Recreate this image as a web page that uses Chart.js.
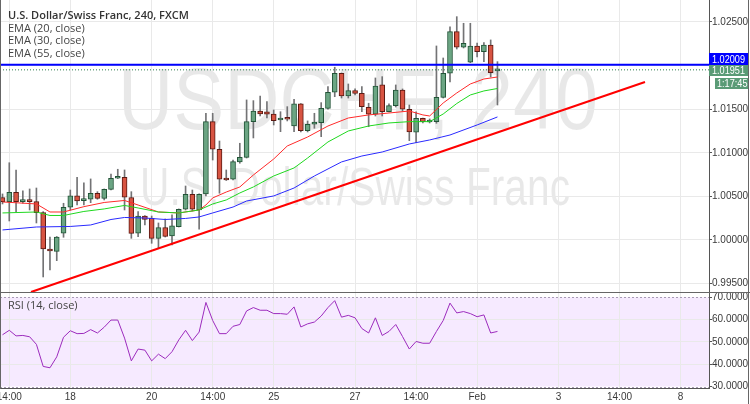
<!DOCTYPE html>
<html><head><meta charset="utf-8">
<script src="https://cdn.jsdelivr.net/npm/chart.js@4.4.1/dist/chart.umd.min.js"></script>
<style>
html,body{margin:0;padding:0;background:#fff;}
#wrap{position:relative;width:750px;height:404px;overflow:hidden;background:#fff;font-family:"Open Sans",Arial,sans-serif;}
canvas{position:absolute;left:0;}
#c1{top:0;}
#c2{top:293px;}
.lg{position:absolute;left:8px;font-size:11px;color:#444;white-space:nowrap;line-height:13px;}
.ln{position:absolute;background:#666;}
</style></head><body>
<div id="wrap">
<canvas id="c1" width="750" height="293"></canvas>
<canvas id="c2" width="750" height="111"></canvas>
<div class="lg" style="top:8px;font-weight:600;color:#333">U.S. Dollar/Swiss Franc, 240, FXCM</div>
<div class="lg" style="top:21px">EMA (20, close)</div>
<div class="lg" style="top:33px">EMA (30, close)</div>
<div class="lg" style="top:46px">EMA (55, close)</div>
<div class="lg" style="top:298px">RSI (14, close)</div>
<div class="ln" style="left:0;top:0;width:1px;height:389px"></div>
<div class="ln" style="left:748px;top:0;width:1px;height:404px"></div>
<div class="ln" style="left:0;top:292px;width:750px;height:1px"></div>
</div>
<script>
// ---- data (4h bars, USD/CHF) ----
const opens = [1.00487,1.00439,1.00547,1.00439,1.00459,1.00439,1.00313,0.99897,0.99870,1.00077,
1.00375,1.00505,1.00451,1.00467,1.00536,1.00478,1.00581,1.00708,1.00719,1.00487,
1.00077,1.00275,1.00249,1.00019,1.00141,1.00046,1.00153,1.00352,1.00524,1.00344,
1.00528,1.01357,1.01040,1.00703,1.00696,1.00895,1.00948,1.01357,1.01479,1.01471,
1.01445,1.01376,1.01396,1.01307,1.01560,1.01253,1.01327,1.01345,1.01510,1.01694,
1.01912,1.01651,1.01712,1.01682,1.01522,1.01442,1.01778,1.01471,1.01540,1.01720,
1.01499,1.01235,1.01396,1.01353,1.01357,1.01636,1.01912,1.02389,1.02210,1.02038,
1.02225,1.02159,1.02236,1.01940];
const highs = [1.00528,1.00886,1.00803,1.00565,1.00585,1.00596,1.00325,1.00034,1.00040,1.00421,
1.00573,1.00719,1.00654,1.00700,1.00554,1.00585,1.00757,1.00811,1.00803,1.00554,
1.00325,1.00280,1.00275,1.00195,1.00241,1.00287,1.00356,1.00619,1.00573,1.00528,
1.01453,1.01453,1.01135,1.00803,1.00917,1.01109,1.01606,1.01598,1.01651,1.01586,
1.01491,1.01471,1.01529,1.01614,1.01565,1.01365,1.01453,1.01575,1.01758,1.01981,
1.01915,1.01789,1.01732,1.01758,1.01568,1.01858,1.01873,1.01560,1.01778,1.01732,
1.01548,1.01471,1.01399,1.01388,1.02225,1.02087,1.02443,1.02561,1.02485,1.02485,
1.02259,1.02263,1.02294,1.02045];
const lows = [1.00413,1.00218,1.00325,1.00421,1.00344,1.00195,0.99576,0.99656,0.99763,1.00031,
1.00344,1.00401,1.00401,1.00428,1.00467,1.00459,1.00573,1.00704,1.00344,1.00019,
1.00038,1.00172,0.99962,0.99905,1.00034,0.99943,1.00149,1.00344,1.00333,1.00123,
1.00505,1.00917,1.00536,1.00682,1.00688,1.00880,1.00940,1.01170,1.01422,1.01399,
1.01319,1.01242,1.01365,1.01242,1.01239,1.01239,1.01281,1.01185,1.01499,1.01643,
1.01628,1.01628,1.01663,1.01471,1.01299,1.01422,1.01422,1.01468,1.01525,1.01479,
1.01139,1.01116,1.01342,1.01342,1.01338,1.01628,1.01812,1.02190,1.02202,1.02033,
1.02099,1.02045,1.01869,1.01548];
const closes = [1.00439,1.00547,1.00439,1.00459,1.00439,1.00313,0.99897,0.99874,1.00034,1.00375,
1.00505,1.00447,1.00467,1.00536,1.00478,1.00581,1.00708,1.00726,1.00490,1.00075,
1.00275,1.00237,1.00019,1.00141,1.00042,1.00161,1.00352,1.00524,1.00352,1.00524,
1.01357,1.01040,1.00696,1.00688,1.00898,1.00948,1.01357,1.01479,1.01445,1.01442,
1.01368,1.01396,1.01384,1.01560,1.01253,1.01327,1.01353,1.01510,1.01694,1.01912,
1.01651,1.01712,1.01682,1.01529,1.01442,1.01766,1.01471,1.01540,1.01720,1.01499,
1.01239,1.01396,1.01357,1.01365,1.01636,1.01912,1.02389,1.02210,1.02256,1.02225,
1.02159,1.02236,1.01919,1.01951];

const ema20Bars = [0,5,7,9,12,15,18,20,23,26,29,30,31,33,35,37,40,42,45,48,51,54,57,60,62,63,65,67,69,71,73];
const ema20Vals = [1.00436,1.00413,1.00321,1.00321,1.00382,1.00430,1.00453,1.00401,1.00321,1.00310,
1.00344,1.00401,1.00482,1.00550,1.00608,1.00745,1.00929,1.01078,1.01181,1.01307,
1.01399,1.01434,1.01456,1.01479,1.01434,1.01422,1.01571,1.01686,1.01789,1.01846,1.01869];
const ema30Bars = [0,5,7,9,12,15,18,20,23,26,29,31,33,35,37,40,43,45,48,51,54,57,60,63,65,67,69,71,73];
const ema30Vals = [1.00310,1.00321,1.00281,1.00281,1.00327,1.00356,1.00396,1.00367,1.00321,1.00310,
1.00344,1.00413,1.00459,1.00539,1.00608,1.00734,1.00826,1.00940,1.01124,1.01250,
1.01307,1.01342,1.01357,1.01357,1.01445,1.01565,1.01663,1.01709,1.01737];
const ema55Bars = [0,5,10,13,16,18,21,24,27,29,31,34,36,40,43,46,50,53,56,60,63,66,70,73];
const ema55Vals = [1.00115,1.00149,1.00155,1.00172,1.00235,1.00258,1.00252,1.00235,1.00247,1.00264,
1.00310,1.00378,1.00447,1.00505,1.00596,1.00734,1.00895,1.00963,1.01009,1.01101,
1.01147,1.01204,1.01319,1.01411];

const rsi = [53.2,55.2,52.7,52.9,52.3,48.9,39.0,38.4,43.3,52.1,
55.0,53.7,53.8,55.5,54.0,56.6,59.8,59.8,51.7,41.5,
46.8,46.3,41.5,44.5,42.5,45.6,50.9,55.2,50.6,54.4,
67.7,59.6,53.7,53.7,57.0,57.8,63.9,65.4,64.2,64.2,
62.7,62.7,62.4,65.7,56.7,58.1,58.9,61.6,65.4,68.5,
61.1,61.9,60.8,56.0,54.0,60.8,52.9,54.7,57.8,52.4,
46.8,50.2,49.4,49.4,54.7,59.6,67.4,63.0,63.6,62.7,
61.3,62.1,54.0,54.7];

const trendBars = [4.2, 94.76];
const trendVals = [0.99404, 1.01812];
const levelPrice = 1.02009;
const lastPrice = 1.01951;
const countdownText = "1:17:45";

const xTickBars = [1,10,22,31,40,52,61,70,82,91,100];
const xTickLabels = ["14:00","18","20","14:00","25","27","14:00","Feb","3","14:00","8"];
const priceTicks = [0.995,1.000,1.005,1.010,1.015,1.020,1.025];
const rsiTicks = [30,40,50,60,70];
const rsiBand = [30,70];

const wmMain = "USDCHF, 240";
const wmSub = "U.S. Dollar/Swiss Franc";

// ---- view ----
const xMin = -0.37, xMax = 104.2;
const pMin = 0.99392, pMax = 1.02752;
const rMin = 29.33, rMax = 71.93;
const AX_FONT = {family:'"Liberation Sans",Arial,sans-serif', size:10};
const AX_COL = '#3a3a3a';
const GRID = '#e9e9e9';

const barIdx = opens.map((_, i) => i);
const isUp = barIdx.map(i => closes[i] >= opens[i]);
const pts = (bs, vs) => bs.map((b, i) => ({x: b, y: vs[i]}));

const xTicksFn = s => { s.ticks = xTickBars.map(v => ({value: v})); };

function fitText(ctx, text, left, right, base, size) {
  ctx.font = size + 'px "Liberation Sans", Arial, sans-serif';
  const w = ctx.measureText(text).width;
  ctx.save();
  ctx.translate(left, base);
  ctx.scale((right - left) / w, 1);
  ctx.textBaseline = 'alphabetic';
  ctx.textAlign = 'left';
  ctx.fillText(text, 0, 0);
  ctx.restore();
}

const watermark = {
  id: 'wm',
  beforeDraw(chart) {
    const ctx = chart.ctx;
    ctx.save();
    ctx.fillStyle = 'rgba(0,0,0,0.09)';
    fitText(ctx, wmMain, 118, 598, 129, 88);
    fitText(ctx, wmSub, 140, 570, 205, 54);
    ctx.restore();
  }
};

function box(ctx, x, y, w, h, bg, text, tx) {
  ctx.fillStyle = bg;
  ctx.fillRect(x, y, w, h);
  ctx.fillStyle = '#fff';
  ctx.font = '11px "Liberation Sans",Arial,sans-serif';
  ctx.textBaseline = 'middle';
  ctx.textAlign = 'left';
  ctx.save();
  ctx.translate(tx, y + h / 2 + 0.5);
  ctx.scale(0.83, 1);
  ctx.fillText(text, 0, 0);
  ctx.restore();
}

const priceLabels = {
  id: 'pl',
  afterDraw(chart) {
    const ctx = chart.ctx, ys = chart.scales.y;
    const gy = Math.round(ys.getPixelForValue(lastPrice));
    const by = Math.min(Math.round(ys.getPixelForValue(levelPrice)) - 6, gy - 5 - 12);
    ctx.save();
    box(ctx, 709, gy - 5, 39, 11, '#5a9b76', lastPrice.toFixed(5), 712);
    box(ctx, 709, by, 39, 12, '#0000ff', levelPrice.toFixed(5), 712);
    box(ctx, 715, gy + 8, 33, 11, '#5a9b76', countdownText, 717);
    ctx.restore();
  }
};

new Chart(document.getElementById('c1'), {
  type: 'bar',
  data: {datasets: [
    {type:'line', data:[{x:xMin,y:levelPrice},{x:xMax,y:levelPrice}], borderColor:'#0000ff', borderWidth:2, pointRadius:0, order:0},
    {type:'line', data:[{x:xMin,y:lastPrice},{x:xMax,y:lastPrice}], borderColor:'#2f7a50', borderWidth:1, borderDash:[1,2], pointRadius:0, order:1},
    {type:'line', data:pts(trendBars, trendVals), borderColor:'#ff0000', borderWidth:2, pointRadius:0, order:2},
    {type:'line', data:pts(ema55Bars, ema55Vals), borderColor:'#2a2aff', borderWidth:1, pointRadius:0, order:3},
    {type:'line', data:pts(ema30Bars, ema30Vals), borderColor:'#1fd81f', borderWidth:1, pointRadius:0, order:3},
    {type:'line', data:pts(ema20Bars, ema20Vals), borderColor:'#ff2a2a', borderWidth:1, pointRadius:0, order:3},
    {type:'bar', data: barIdx.map(i => ({x:i, y:[opens[i], closes[i]]})),
      backgroundColor: isUp.map(u => u ? '#6ba583' : '#d75442'),
      borderColor: isUp.map(u => u ? '#225437' : '#5b1a13'),
      borderWidth:1, borderSkipped:false, barThickness:5, minBarLength:2, grouped:false, order:5},
    {type:'bar', data: barIdx.map(i => ({x:i, y:[lows[i], highs[i]]})),
      backgroundColor:'#737375', barThickness:1, grouped:false, order:6}
  ]},
  options: {
    responsive:false, animation:false, devicePixelRatio:1, events:[],
    layout:{padding:0},
    plugins:{legend:{display:false}, tooltip:{enabled:false}},
    scales: {
      x: {type:'linear', min:xMin, max:xMax, offset:false,
          grid:{color:GRID, drawTicks:false, offset:false}, border:{display:false},
          ticks:{display:false}, afterBuildTicks:xTicksFn,
          afterFit: s => { s.height = 0; s.paddingLeft = 0; s.paddingRight = 0; }},
      y: {type:'linear', position:'right', min:pMin, max:pMax,
          grid:{color:GRID, tickColor:'#555', tickLength:3}, border:{color:'#555'},
          ticks:{font:AX_FONT, color:AX_COL, padding:0,
                 callback: v => Math.abs(v - 1.02) < 1e-9 ? '' : v.toFixed(5)},
          afterBuildTicks: s => { s.ticks = priceTicks.map(v => ({value:v})); },
          afterFit: s => { s.width = 41; s.paddingTop = 0; s.paddingBottom = 0; }}
    }
  },
  plugins:[watermark, priceLabels]
});

const band = {
  id: 'band',
  beforeDraw(chart) {
    const ctx = chart.ctx, ys = chart.scales.y, a = chart.chartArea;
    const y1 = ys.getPixelForValue(rsiBand[1]), y0 = ys.getPixelForValue(rsiBand[0]);
    ctx.save();
    ctx.fillStyle = 'rgba(153,21,255,0.09)';
    ctx.fillRect(a.left, y1, a.right - a.left, y0 - y1);
    ctx.restore();
  },
  beforeDatasetsDraw(chart) {
    const ctx = chart.ctx, ys = chart.scales.y, a = chart.chartArea;
    ctx.save();
    ctx.strokeStyle = '#a89bb5';
    ctx.lineWidth = 1;
    ctx.setLineDash([2, 2]);
    rsiBand.forEach(v => {
      const y = Math.round(ys.getPixelForValue(v)) + 0.5;
      ctx.beginPath(); ctx.moveTo(a.left, y); ctx.lineTo(a.right, y); ctx.stroke();
    });
    ctx.restore();
  }
};

new Chart(document.getElementById('c2'), {
  type: 'line',
  data: {datasets: [
    {data: barIdx.map(i => ({x:i, y:rsi[i]})), borderColor:'#9c2bbd', borderWidth:1, pointRadius:0, tension:0}
  ]},
  options: {
    responsive:false, animation:false, devicePixelRatio:1, events:[],
    layout:{padding:0},
    plugins:{legend:{display:false}, tooltip:{enabled:false}},
    scales: {
      x: {type:'linear', min:xMin, max:xMax, offset:false,
          grid:{color:GRID, drawTicks:false, offset:false}, border:{color:'#555'},
          ticks:{font:AX_FONT, color:AX_COL, padding:3, autoSkip:false, maxRotation:0,
                 callback: (v, i) => xTickLabels[i]},
          afterBuildTicks:xTicksFn,
          afterFit: s => { s.height = 16; s.paddingLeft = 0; s.paddingRight = 0; }},
      y: {type:'linear', position:'right', min:rMin, max:rMax,
          grid:{color: c => (c.tick && rsiBand.includes(c.tick.value)) ? 'rgba(0,0,0,0)' : GRID,
                tickColor:'#555', tickLength:3}, border:{color:'#555'},
          ticks:{font:AX_FONT, color:AX_COL, padding:0, callback: v => v.toFixed(4)},
          afterBuildTicks: s => { s.ticks = rsiTicks.map(v => ({value:v})); },
          afterFit: s => { s.width = 41; s.paddingTop = 0; s.paddingBottom = 0; }}
    }
  },
  plugins:[band]
});
</script>
</body></html>
